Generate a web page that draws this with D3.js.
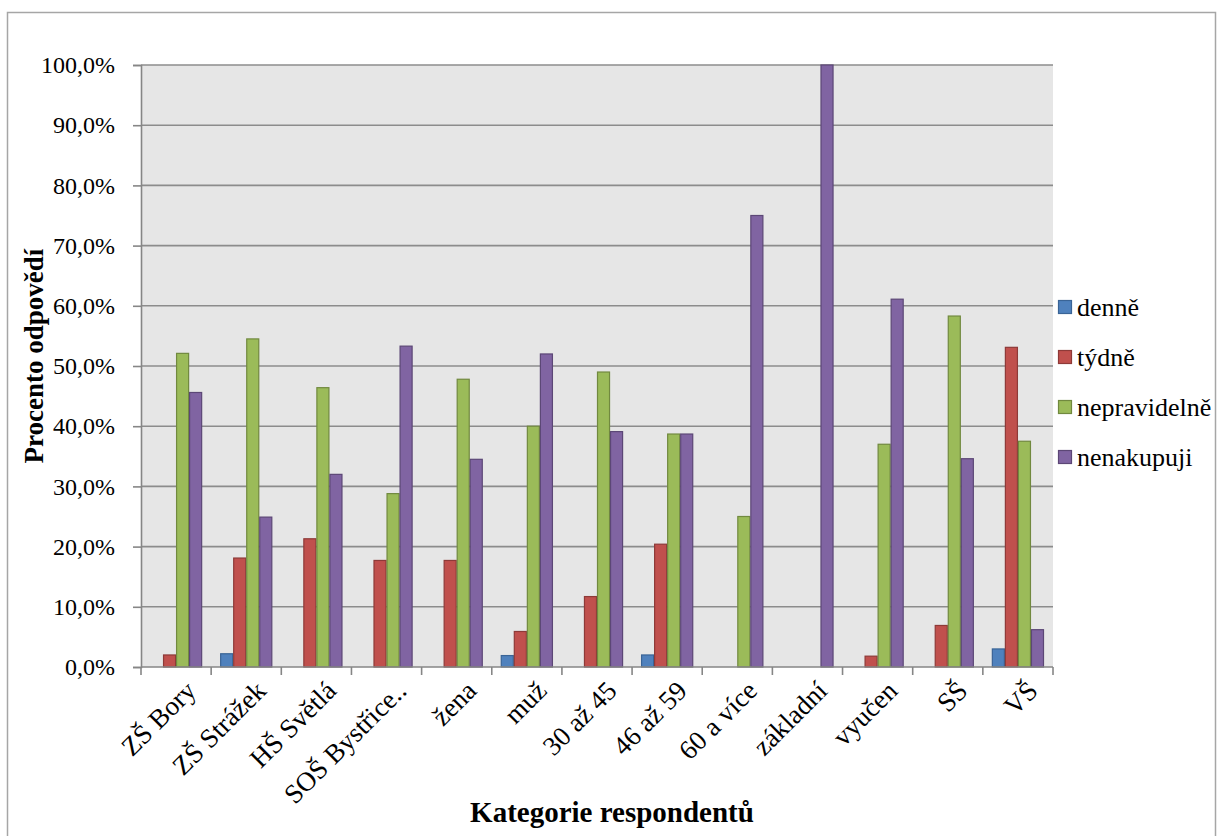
<!DOCTYPE html>
<html>
<head>
<meta charset="utf-8">
<script src="https://cdn.jsdelivr.net/npm/d3@7"></script>
<style>
  html, body { margin: 0; padding: 0; background: #fff; }
  svg { display: block; }
  svg text { font-family: "Liberation Serif", "Times New Roman", serif !important; fill: #000; }
</style>
</head>
<body>
<svg id="chart" width="1217" height="836"></svg>
<script>
const categories = ["ZŠ Bory", "ZŠ Strážek", "HŠ Světlá", "SOŠ Bystřice..", "žena", "muž", "30 až 45", "46 až 59", "60 a více", "základní", "vyučen", "SŠ", "VŠ"];
const seriesNames = ["denně", "týdně", "nepravidelně", "nenakupuji"];
const denne        = [0,    2.2,  0,    0,    0,    1.9,  0,    2.0,  0,    0,   0,    0,    3.0];
const tydne        = [2.0,  18.1, 21.3, 17.7, 17.7, 5.9,  11.7, 20.4, 0,    0,   1.8,  6.9,  53.1];
const nepravidelne = [52.1, 54.5, 46.4, 28.8, 47.8, 40.0, 49.0, 38.7, 25.0, 0,   37.0, 58.3, 37.5];
const nenakupuji   = [45.6, 24.9, 32.0, 53.3, 34.5, 52.0, 39.1, 38.7, 75.0, 100, 61.1, 34.6, 6.2];
const yTicks = [0, 10, 20, 30, 40, 50, 60, 70, 80, 90, 100];
const yTitle = "Procento odpovědí";
const xTitle = "Kategorie respondentů";

const seriesValues = [denne, tydne, nepravidelne, nenakupuji];
const fills   = ["#4F81BD", "#C0504D", "#9BBB59", "#8064A2"];
const strokes = ["#3A6496", "#8E3A38", "#71893F", "#5C4776"];
const FONT = "Liberation Serif";

const svg = d3.select("#chart");
const plot = { left: 141, top: 65, right: 1053, bottom: 667 };

// outer border
svg.append("rect")
  .attr("x", 7.5).attr("y", 12.5)
  .attr("width", 1208).attr("height", 840)
  .attr("fill", "#fff").attr("stroke", "#a6a6a6").attr("stroke-width", 1.5);

const x0 = d3.scaleBand().domain(categories).range([plot.left, plot.right]).padding(0);
const x1 = d3.scaleBand().domain(seriesNames)
  .range([9, x0.step() - 9]).padding(0);
const y = d3.scaleLinear().domain([0, 100]).range([plot.bottom, plot.top]);

// plot background
svg.append("rect")
  .attr("x", plot.left).attr("y", plot.top)
  .attr("width", plot.right - plot.left).attr("height", plot.bottom - plot.top)
  .attr("fill", "#E6E6E6");

// gridlines
svg.append("g").selectAll("line").data(yTicks.filter(d => d > 0)).join("line")
  .attr("x1", plot.left).attr("x2", plot.right)
  .attr("y1", d => y(d)).attr("y2", d => y(d))
  .attr("stroke", "#8c8c8c").attr("stroke-width", 1.6);

// bars
const groups = svg.append("g").selectAll("g").data(categories).join("g")
  .attr("transform", d => `translate(${x0(d)},0)`);
groups.selectAll("rect")
  .data((c, i) => seriesNames.map((s, j) => ({ s, j, v: seriesValues[j][i] })).filter(d => d.v > 0))
  .join("rect")
  .attr("x", d => x1(d.s) + 0.5)
  .attr("width", x1.bandwidth() - 1)
  .attr("y", d => y(d.v))
  .attr("height", d => y(0) - y(d.v))
  .attr("fill", d => fills[d.j])
  .attr("stroke", d => strokes[d.j])
  .attr("stroke-width", 1.2);

// y axis
const yAxis = d3.axisLeft(y).tickValues(yTicks).tickSize(8).tickPadding(18)
  .tickFormat(d => d3.format(".1f")(d).replace(".", ",") + "%");
const gy = svg.append("g").attr("transform", `translate(${plot.left},0)`).call(yAxis)
  .attr("font-family", FONT).attr("font-size", 24);
gy.select(".domain").attr("stroke", "#868686").attr("stroke-width", 1.6);
gy.selectAll(".tick line").attr("stroke", "#868686").attr("stroke-width", 1.6);
gy.selectAll(".tick text").attr("fill", "#000");

// x axis
const xAxis = d3.axisBottom(x0).tickSize(0).tickFormat("");
const gx = svg.append("g").attr("transform", `translate(0,${plot.bottom})`).call(xAxis);
gx.selectAll(".tick").remove();
gx.select(".domain").attr("stroke", "#868686").attr("stroke-width", 1.6).attr("d", `M${plot.left},0H${plot.right}`);
const boundaries = d3.range(categories.length + 1).map(i => plot.left + i * x0.step());
gx.selectAll(".btick").data(boundaries).join("line").attr("class", "btick")
  .attr("x1", d => d).attr("x2", d => d).attr("y1", 0).attr("y2", 8)
  .attr("stroke", "#868686").attr("stroke-width", 1.6);

// x labels rotated
svg.append("g").attr("font-family", FONT).attr("font-size", 27)
  .selectAll("text").data(categories).join("text")
  .attr("transform", d => `translate(${x0(d) + x0.bandwidth() / 2 + 8},${plot.bottom + 12}) rotate(-45)`)
  .attr("text-anchor", "end")
  .attr("dy", "0.7em")
  .text(d => d);

// axis titles
svg.append("text")
  .attr("transform", `translate(43,356) rotate(-90)`)
  .attr("text-anchor", "middle")
  .attr("font-family", FONT).attr("font-size", 27).attr("font-weight", "bold")
  .text(yTitle);
svg.append("text")
  .attr("x", 612).attr("y", 822)
  .attr("text-anchor", "middle")
  .attr("font-family", FONT).attr("font-size", 29).attr("font-weight", "bold")
  .text(xTitle);

// legend
const legend = svg.append("g").attr("transform", "translate(1058,300)")
  .attr("font-family", FONT).attr("font-size", 26);
const li = legend.selectAll("g").data(seriesNames).join("g")
  .attr("transform", (d, i) => `translate(0,${i * 50})`);
li.append("rect").attr("x", 0.5).attr("y", 0.5).attr("width", 13).attr("height", 13)
  .attr("fill", (d, i) => fills[i]).attr("stroke", (d, i) => strokes[i]).attr("stroke-width", 1.2);
li.append("text").attr("x", 19).attr("y", 7).attr("dy", "0.35em")
  .text(d => d);
</script>
</body>
</html>
